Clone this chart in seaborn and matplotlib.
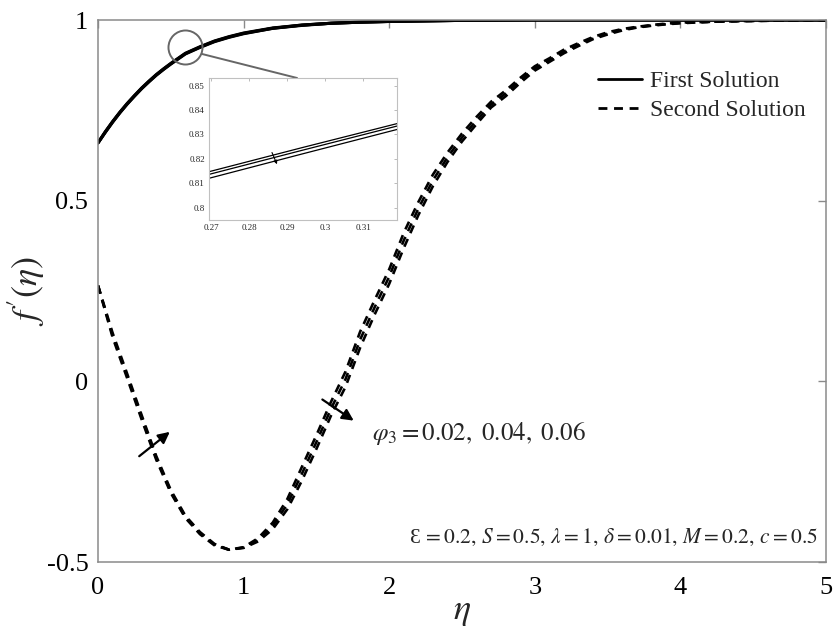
import numpy as np
import pandas as pd
import matplotlib
matplotlib.use("Agg")
import matplotlib.pyplot as plt
from matplotlib.lines import Line2D
import seaborn as sns

# ---------------- data ----------------
phi3 = ["0.02", "0.04", "0.06"]

eta_first = [0.0, 0.05, 0.1, 0.15, 0.2, 0.25, 0.3, 0.35, 0.4, 0.45, 0.5, 0.55,
             0.6, 0.7, 0.8, 0.9, 1.0, 1.2, 1.4, 1.6, 1.8, 2.0, 2.5, 3.0, 4.0, 5.0]
first_002 = [0.660, 0.691, 0.719, 0.745, 0.769, 0.791, 0.812, 0.831, 0.849, 0.865,
             0.880, 0.894, 0.908, 0.926, 0.942, 0.954, 0.964, 0.978, 0.986, 0.991,
             0.994, 0.996, 0.999, 1.000, 1.000, 1.000]
first_004 = [0.660, 0.690, 0.718, 0.744, 0.768, 0.790, 0.811, 0.830, 0.848, 0.864,
             0.879, 0.893, 0.907, 0.925, 0.941, 0.953, 0.963, 0.977, 0.986, 0.991,
             0.994, 0.996, 0.999, 1.000, 1.000, 1.000]
first_006 = [0.660, 0.689, 0.717, 0.743, 0.767, 0.789, 0.810, 0.829, 0.847, 0.863,
             0.878, 0.892, 0.906, 0.924, 0.940, 0.952, 0.962, 0.977, 0.985, 0.991,
             0.994, 0.996, 0.999, 1.000, 1.000, 1.000]

eta_second = [0.0, 0.1, 0.2, 0.3, 0.4, 0.5, 0.6, 0.7, 0.8, 0.9,
              1.0, 1.1, 1.2, 1.3, 1.4, 1.5, 1.6, 1.7, 1.8, 1.9,
              2.0, 2.1, 2.2, 2.3, 2.4, 2.5, 2.6, 2.7, 2.8, 2.9,
              3.0, 3.1, 3.2, 3.3, 3.4, 3.5, 3.6, 3.7, 3.8, 3.9,
              4.0, 4.2, 4.4, 4.6, 4.8, 5.0]
second_002 = [0.265, 0.122, 0.009, -0.106, -0.217, -0.309, -0.378, -0.423, -0.454, -0.466,
              -0.459, -0.434, -0.391, -0.326, -0.237, -0.149, -0.057, 0.027, 0.137, 0.225,
              0.310, 0.411, 0.496, 0.572, 0.633, 0.686, 0.732, 0.774, 0.805, 0.840,
              0.872, 0.894, 0.918, 0.936, 0.953, 0.966, 0.975, 0.981, 0.986, 0.990,
              0.993, 0.995, 0.997, 0.998, 0.999, 1.000]
second_004 = [0.265, 0.128, 0.015, -0.100, -0.212, -0.305, -0.375, -0.420, -0.452, -0.466,
              -0.460, -0.438, -0.400, -0.340, -0.256, -0.168, -0.076, 0.006, 0.115, 0.205,
              0.290, 0.390, 0.478, 0.556, 0.620, 0.675, 0.722, 0.766, 0.797, 0.833,
              0.866, 0.889, 0.913, 0.932, 0.950, 0.963, 0.973, 0.980, 0.985, 0.989,
              0.992, 0.995, 0.997, 0.998, 0.999, 1.000]
second_006 = [0.265, 0.134, 0.021, -0.094, -0.207, -0.301, -0.372, -0.417, -0.450, -0.466,
              -0.461, -0.443, -0.409, -0.354, -0.275, -0.187, -0.095, -0.015, 0.093, 0.185,
              0.270, 0.369, 0.460, 0.540, 0.607, 0.664, 0.712, 0.758, 0.789, 0.826,
              0.860, 0.884, 0.908, 0.928, 0.947, 0.960, 0.971, 0.979, 0.984, 0.988,
              0.991, 0.995, 0.997, 0.998, 0.999, 1.000]

# inset (zoom of first solution)
inset_eta = [0.2694, 0.2940, 0.3189]
inset_002 = [0.8147, 0.8246, 0.8344]
inset_004 = [0.8136, 0.8235, 0.8334]
inset_006 = [0.8120, 0.8220, 0.8320]

xticks = [0, 1, 2, 3, 4, 5]
yticks = [-0.5, 0, 0.5, 1]
ytick_labels = ["-0.5", "0", "0.5", "1"]
inset_xticks = [0.27, 0.28, 0.29, 0.30, 0.31]
inset_xlabels = ["0.27", "0.28", "0.29", "0.3", "0.31"]
inset_yticks = [0.80, 0.81, 0.82, 0.83, 0.84, 0.85]
inset_ylabels = ["0.8", "0.81", "0.82", "0.83", "0.84", "0.85"]

# ---------------- long tables ----------------
first = pd.concat([pd.DataFrame({"eta": eta_first, "f": v, "phi": p})
                   for v, p in zip([first_002, first_004, first_006], phi3)])
second = pd.concat([pd.DataFrame({"eta": eta_second, "f": v, "phi": p})
                    for v, p in zip([second_002, second_004, second_006], phi3)])
inset = pd.concat([pd.DataFrame({"eta": inset_eta, "f": v, "phi": p})
                   for v, p in zip([inset_002, inset_004, inset_006], phi3)])

# ---------------- style ----------------
sns.set_theme(style="white")
plt.rcParams["font.family"] = ["Liberation Serif", "DejaVu Serif"]
plt.rcParams["mathtext.fontset"] = "stix"

fig = plt.figure(figsize=(8.35, 6.29), dpi=100)
ax = fig.add_axes([0.1174, 0.1065, 0.9892 - 0.1174, 0.9682 - 0.1065])

DASH = (0, (3.2, 2.4))
sns.lineplot(data=first, x="eta", y="f", units="phi", estimator=None, sort=False,
             color="black", lw=2.2, ax=ax, legend=False)
sns.lineplot(data=second, x="eta", y="f", units="phi", estimator=None, sort=False,
             color="black", lw=1.9, linestyle=DASH, ax=ax, legend=False)

ax.set_xlim(0, 5)
ax.set_ylim(-0.5, 1)
ax.set_xticks(xticks)
ax.set_xticklabels([str(t) for t in xticks])
ax.set_yticks(yticks)
ax.set_yticklabels(ytick_labels)
ax.tick_params(direction="in", length=6, width=1, color="#8a8a8a",
               labelsize=19, labelcolor="black", top=True, right=True)
ax.tick_params(axis="x", pad=11)
ax.tick_params(axis="y", pad=7)
for s in ax.spines.values():
    s.set_color("#8a8a8a")
    s.set_linewidth(1.1)

ax.set_xlabel(r"$\eta$", fontsize=26, labelpad=-3)
ax.set_ylabel(r"$f^{\prime}(\eta)$", fontsize=26, labelpad=0)

# legend
handles = [Line2D([], [], color="black", lw=2.0),
           Line2D([], [], color="black", lw=2.0, linestyle=DASH)]
ax.legend(handles, ["First Solution", "Second Solution"], frameon=False,
          fontsize=17, loc="upper left", bbox_to_anchor=(0.67, 0.928),
          handlelength=1.9, handletextpad=0.3, labelspacing=0.3, borderpad=0)

# annotations
ax.annotate("", xy=(0.508, -0.135), xytext=(0.268, -0.212),
            arrowprops=dict(arrowstyle="-|>", color="black", lw=1.6,
                            mutation_scale=17))
ax.annotate("", xy=(1.772, -0.113), xytext=(1.525, -0.046),
            arrowprops=dict(arrowstyle="-|>", color="black", lw=1.6,
                            mutation_scale=17))
ax.text(1.88, -0.143, r"$\varphi_3 = 0.02,\ 0.04,\ 0.06$", fontsize=18,
        ha="left", va="center")
ax.text(4.945, -0.431,
        "Ɛ" + r"$\, = 0.2,\,S = 0.5,\,\lambda = 1,\,\delta = 0.01,\,M = 0.2,\,c = 0.5$",
        fontsize=15.5, ha="right", va="center")

# zoom circle + connector
ax.plot([0.598], [0.925], marker="o", markersize=24.5, mfc="none",
        mec="#666666", mew=1.4, ls="none")
ax.plot([0.714, 1.367], [0.906, 0.8395], color="#666666", lw=1.4)

# inset
axi = fig.add_axes([0.2503, 0.6502, 0.2251, 0.2258])
sns.lineplot(data=inset, x="eta", y="f", units="phi", estimator=None, sort=False,
             color="black", lw=0.9, ax=axi, legend=False)
axi.set_xlim(0.2694, 0.3189)
axi.set_ylim(0.7949, 0.8531)
axi.set_xticks(inset_xticks)
axi.set_xticklabels(inset_xlabels)
axi.set_yticks(inset_yticks)
axi.set_yticklabels(inset_ylabels)
axi.set_xlabel("")
axi.set_ylabel("")
axi.tick_params(direction="in", length=2.5, width=0.6, color="#b0b0b0",
                labelsize=6.5, top=True, right=True, pad=3)
for s in axi.spines.values():
    s.set_color("#c0c0c0")
    s.set_linewidth(0.8)
axi.annotate("", xy=(0.2876, 0.8167), xytext=(0.2857, 0.8236),
             arrowprops=dict(arrowstyle="-|>", color="black", lw=0.8,
                             mutation_scale=5))

fig.savefig("out.png", dpi=100)
